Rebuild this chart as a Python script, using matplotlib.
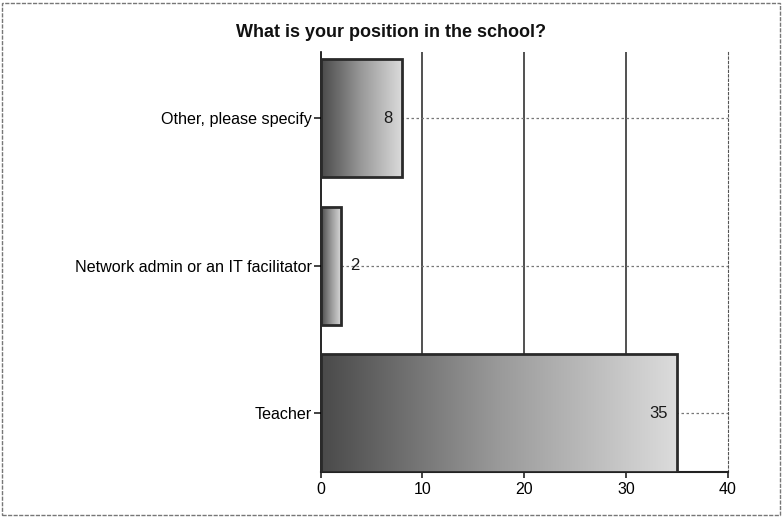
import matplotlib
matplotlib.use("Agg")
import matplotlib.pyplot as plt
import numpy as np
from matplotlib.patches import Rectangle

categories = ["Teacher", "Network admin or an IT facilitator", "Other, please specify"]
values = [35, 2, 8]
xticks = [0, 10, 20, 30, 40]
title = "What is your position in the school?"

plt.rcParams['font.family'] = ['Liberation Sans', 'DejaVu Sans']

fig = plt.figure(figsize=(7.82, 5.2), dpi=100)
ax = fig.add_axes([0.41, 0.0923, 0.521, 0.808])

ypos = np.arange(len(categories))
bar_h = 0.8
ax.set_xlim(0, 40)
ax.set_ylim(-0.4, 2.45)

cmap = matplotlib.colors.LinearSegmentedColormap.from_list(
    'g', ['#4a4a4a', '#9a9a9a', '#dcdcdc'])
grad = np.linspace(0, 1, 256).reshape(1, -1)
for y, v in zip(ypos, values):
    rect = Rectangle((0, y - bar_h / 2), v, bar_h, facecolor='none',
                     edgecolor='#2a2a2a', linewidth=2, zorder=4)
    ax.add_patch(rect)
    im = ax.imshow(grad, extent=[0, v, y - bar_h / 2, y + bar_h / 2],
                   cmap=cmap, aspect='auto', zorder=3, interpolation='bicubic')
    im.set_clip_path(rect)
    if v >= 5:
        ax.text(v - 0.9, y, str(v), ha='right', va='center', fontsize=12,
                color='#1a1a1a', zorder=5)
    else:
        ax.text(v + 0.9, y, str(v), ha='left', va='center', fontsize=12,
                color='#1a1a1a', zorder=5)

ax.set_aspect('auto')
ax.set_xticks(xticks)
ax.set_yticks(ypos)
ax.set_yticklabels(categories, fontsize=11.6)
ax.tick_params(axis='x', labelsize=11.5, length=4, width=1.2, color='#222222')
ax.tick_params(axis='y', length=5, width=1.2, color='#222222', pad=1)

for xv in xticks[1:-1]:
    ax.axvline(xv, color='#222222', linewidth=1.1, zorder=1)
for y in ypos:
    ax.axhline(y, color='#777777', linewidth=0.9, linestyle=(0, (2, 2)), zorder=1)

ax.spines['top'].set_visible(False)
ax.spines['right'].set_linestyle((0, (2, 2)))
ax.spines['right'].set_color('#555555')
ax.spines['left'].set_linewidth(1.2)
ax.spines['bottom'].set_linewidth(1.5)
ax.spines['bottom'].set_color('#222222')

fig.text(0.5, 0.938, title, ha='center', va='center', fontsize=13,
         fontweight='bold', color='#111111')

fig.patches.append(Rectangle((0.003, 0.01), 0.994, 0.985, transform=fig.transFigure,
                             fill=False, edgecolor='#777777', linewidth=1,
                             linestyle=(0, (3, 1))))

fig.savefig("out.png", dpi=100)
